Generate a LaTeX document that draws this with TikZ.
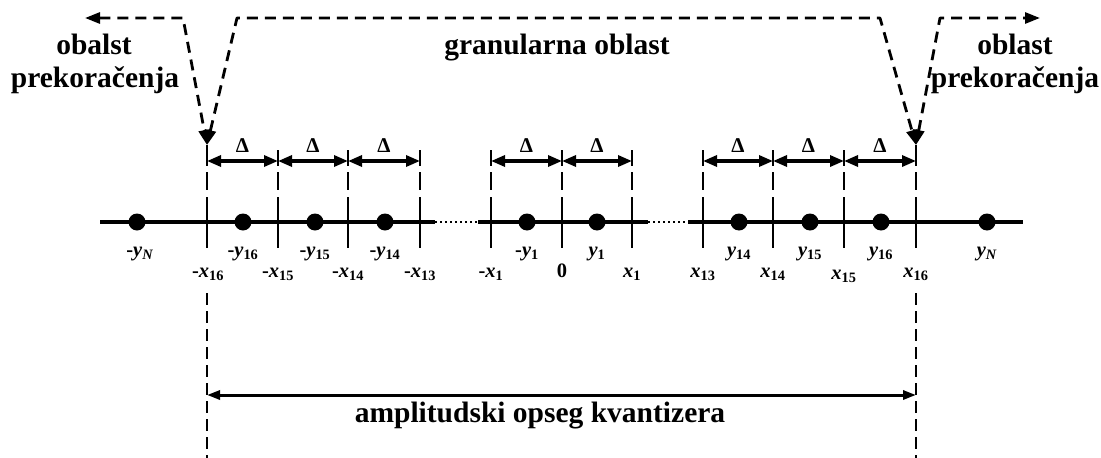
\documentclass[tikz,border=0pt]{standalone}
\usepackage{fontspec}
\setmainfont{Liberation Serif}
\usetikzlibrary{arrows.meta,calc}
\newcommand{\vy}[2]{#1\textit{y}\textsubscript{#2}}
\newcommand{\vx}[2]{#1\textit{x}\textsubscript{#2}}
\begin{document}
\begin{tikzpicture}[x=1pt,y=-1pt,
  axisline/.style={line width=3.2pt},
  tickline/.style={line width=2.6pt},
  dotline/.style={line width=2.4pt, dash pattern=on 2.4pt off 2.6pt},
  guideup/.style={line width=2.6pt, dash pattern=on 16pt off 6pt on 18pt off 7pt},
  guidedown/.style={line width=2.4pt, dash pattern=on 12pt off 6pt},
  deltaarrow/.style={line width=3.2pt, {Triangle[length=14pt,width=11pt]}-{Triangle[length=14pt,width=11pt]}},
  toppath/.style={line width=2.8pt, dash pattern=on 11pt off 7pt, line join=round},
  toparrows/.style={{Triangle[length=15pt,width=11pt]}-{Triangle[length=15pt,width=11pt]}},
  qdot/.style={circle, fill=black, inner sep=0pt, minimum size=17pt},
  bigtext/.style={font=\fontsize{29.5}{32}\selectfont\bfseries, anchor=base, inner sep=0pt},
  labtext/.style={font=\fontsize{20.5}{22}\selectfont\bfseries, anchor=base, inner sep=0pt},
  deltatext/.style={font=\fontsize{21}{22}\selectfont\bfseries, anchor=base, inner sep=0pt}]
\useasboundingbox (0,0) rectangle (1101,458);

% axis
\coordinate (A0) at (100,222);
\coordinate (A1) at (435,222);
\coordinate (A2) at (478,222);
\coordinate (A3) at (648,222);
\coordinate (A4) at (688,222);
\coordinate (A5) at (1023,222);
\draw[axisline] (A0) -- (A1);
\draw[dotline] (A1) -- (A2);
\draw[axisline] (A2) -- (A3);
\draw[dotline] (A3) -- (A4);
\draw[axisline] (A4) -- (A5);

% ticks
\foreach \n/\x in {m16/207,m15/278,m14/348,m13/420,m1/491,z/562,p1/632,p13/703,p14/773,p15/844,p16/916}{
  \coordinate (u\n) at (\x,150);
  \coordinate (a\n) at (\x,197);
  \coordinate (b\n) at (\x,248);
  \coordinate (d\n) at (\x,161);
  \draw[tickline] (a\n) -- (b\n);
  \draw[guideup] (u\n) -- (a\n);
}

% delta arrows
\foreach \p/\q in {m16/m15,m15/m14,m14/m13,m1/z,z/p1,p13/p14,p14/p15,p15/p16}{
  \draw[deltaarrow] (d\p) -- (d\q);
  \node[deltatext] at ($(d\p)!0.5!(d\q)+(0,-9)$) {Δ};
}

% dots
\foreach \n/\x in {yN/137,y16/243,y15/315,y14/385,y1/527,p1/597,p14/739,p15/810,p16/881,pN/987}{
  \node[qdot] (dot\n) at (\x,222) {};
}

% y labels
\node[labtext] (ly1) at (140,256) {\vy{-}{\textit{N}}};
\node[labtext] (ly2) at (243,256) {\vy{-}{16}};
\node[labtext] (ly3) at (315,256) {\vy{-}{15}};
\node[labtext] (ly4) at (385,256) {\vy{-}{14}};
\node[labtext] (ly5) at (527,256) {\vy{-}{1}};
\node[labtext] (ly6) at (597,256) {\vy{}{1}};
\node[labtext] (ly7) at (739,256) {\vy{}{14}};
\node[labtext] (ly8) at (810,256) {\vy{}{15}};
\node[labtext] (ly9) at (881,256) {\vy{}{16}};
\node[labtext] (ly10) at (987,256) {\vy{}{\textit{N}}};

% x labels
\node[labtext] (lx1) at (208,277) {\vx{-}{16}};
\node[labtext] (lx2) at (278,277) {\vx{-}{15}};
\node[labtext] (lx3) at (348,277) {\vx{-}{14}};
\node[labtext] (lx4) at (420,277) {\vx{-}{13}};
\node[labtext] (lx5) at (491,277) {\vx{-}{1}};
\node[labtext] (lx6) at (562,277) {0};
\node[labtext] (lx7) at (632,277) {\vx{}{1}};
\node[labtext] (lx8) at (703,277) {\vx{}{13}};
\node[labtext] (lx9) at (773,277) {\vx{}{14}};
\node[labtext] (lx10) at (844,279) {\vx{}{15}};
\node[labtext] (lx11) at (916,277) {\vx{}{16}};

% long dashed guides
\coordinate (gL) at (207,293);
\coordinate (gLe) at (207,458);
\coordinate (gR) at (916,293);
\coordinate (gRe) at (916,458);
\draw[guidedown] (gL) -- (gLe);
\draw[guidedown] (gR) -- (gRe);

% amplitude range arrow
\coordinate (rL) at (207,395);
\coordinate (rR) at (916,395);
\draw[line width=3pt, {Triangle[length=13pt,width=9pt]}-{Triangle[length=13pt,width=9pt]}] (rL) -- (rR);
\node[bigtext] (range) at (540,422) {amplitudski opseg kvantizera};

% top dashed region arrows
\coordinate (tipL) at (207,145);
\coordinate (tipR) at (916,145);
\coordinate (c1) at (183,18);
\coordinate (c2) at (237,18);
\coordinate (c3) at (880,18);
\coordinate (c4) at (940,18);
\coordinate (endL) at (85,18);
\coordinate (endR) at (1040,18);
\draw[tickline] (tipL) -- (um16);
\draw[tickline] (tipR) -- (up16);
\draw[toppath, toparrows] (endL) -- (c1) -- (tipL);
\draw[toppath, toparrows] (tipL) -- (c2) -- (c3) -- (tipR);
\draw[toppath, toparrows] (tipR) -- (c4) -- (endR);

% region labels
\node[bigtext] (ol1) at (94,54) {obalst};
\node[bigtext] (ol2) at (95,87) {prekoračenja};
\node[bigtext] (gr) at (557,54) {granularna oblast};
\node[bigtext] (or1) at (1015,54) {oblast};
\node[bigtext] (or2) at (1015,87) {prekoračenja};
\end{tikzpicture}
\end{document}
